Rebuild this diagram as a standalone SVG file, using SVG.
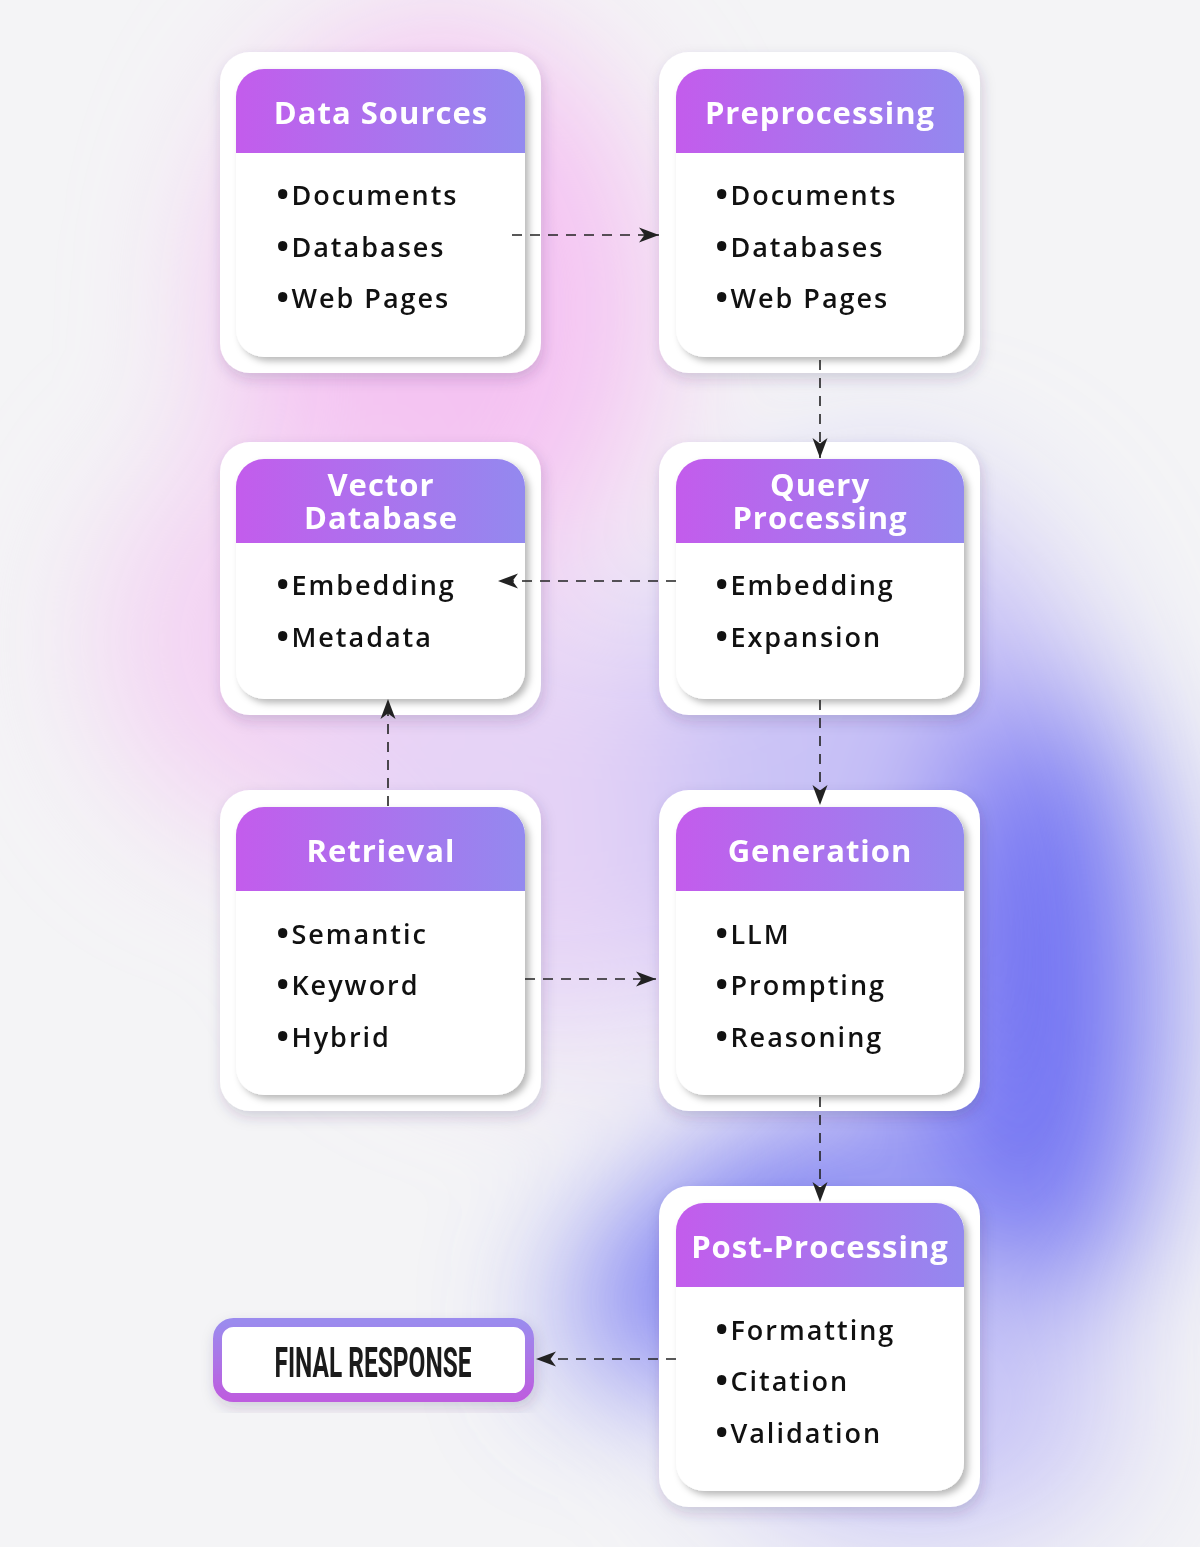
<svg xmlns="http://www.w3.org/2000/svg" width="1200" height="1547" viewBox="0 0 1200 1547">
<defs>
<linearGradient id="hdr" x1="0" y1="0" x2="1" y2="0">
<stop offset="0" stop-color="#c35cec"/>
<stop offset="1" stop-color="#9389ef"/>
</linearGradient>
<linearGradient id="frBorder" x1="0" y1="0" x2="0" y2="1">
<stop offset="0" stop-color="#9b8bee"/>
<stop offset="1" stop-color="#bd5ddf"/>
</linearGradient>
<filter id="blur" filterUnits="userSpaceOnUse" x="-300" y="-300" width="1800" height="2150">
<feGaussianBlur stdDeviation="70"/>
</filter>
<filter id="outerShadow" x="-20%" y="-20%" width="140%" height="140%">
<feDropShadow dx="2" dy="6" stdDeviation="7" flood-color="#3a2a5a" flood-opacity="0.18"/>
</filter>
<filter id="innerShadow" x="-20%" y="-20%" width="140%" height="140%">
<feDropShadow dx="4" dy="4" stdDeviation="3.5" flood-color="#000" flood-opacity="0.28"/>
</filter>
<marker id="arr" markerUnits="userSpaceOnUse" markerWidth="22" markerHeight="18" viewBox="0 0 22 18" refX="20" refY="9" orient="auto">
<path d="M0,1.5 L20,9 L0,16.5 L5.5,9 Z" fill="#222"/>
</marker>
</defs>
<style>
.outer{fill:#fff;filter:url(#outerShadow)}
.inner{fill:#fff;filter:url(#innerShadow)}
.hdr{fill:url(#hdr)}
.title{font-family:"Open Sans","Liberation Sans",sans-serif;font-weight:700;font-size:31px;fill:#fff;text-anchor:middle;letter-spacing:1px}
.item{font-family:"Open Sans","Liberation Sans",sans-serif;font-weight:600;font-size:27px;fill:#111;letter-spacing:2px}
.b{font-weight:800;font-size:29px;letter-spacing:3px}
.conn path{fill:none;stroke:#222;stroke-width:1.6;stroke-dasharray:10 8;marker-end:url(#arr)}
.fr{font-family:Roboto,"Liberation Sans",sans-serif;font-weight:700;font-size:42px;fill:#1b1b1b;text-anchor:middle}
</style>
<rect width="1200" height="1547" fill="#f4f4f6"/>
<g filter="url(#blur)">
<ellipse cx="440" cy="310" rx="220" ry="290" fill="#f4c2f2"/>
<ellipse cx="290" cy="640" rx="190" ry="200" fill="#f3d2f3"/>
<ellipse cx="560" cy="820" rx="240" ry="220" fill="#e5d3f6"/>
<ellipse cx="880" cy="780" rx="220" ry="300" fill="#c9c2f6"/>
<ellipse cx="1040" cy="1000" rx="120" ry="320" fill="#6e6ff2"/>
<ellipse cx="750" cy="1250" rx="200" ry="95" transform="rotate(-30 750 1250)" fill="#6f72f2"/>
<ellipse cx="920" cy="1420" rx="200" ry="120" fill="#c7c4f6"/>
</g>

<g id="data-sources" transform="translate(220,52)">
<rect class="outer" x="0" y="0" width="321" height="321" rx="30"/>
<rect class="inner" x="16" y="17" width="289" height="288" rx="28"/>
<path class="hdr" d="M16,101 V45 A28,28 0 0 1 44,17 H277 A28,28 0 0 1 305,45 V101 Z"/>
<text class="title" x="161" y="72">Data Sources</text>
<text class="item" x="57" y="153"><tspan class="b">•</tspan>Documents</text>
<text class="item" x="57" y="205"><tspan class="b">•</tspan>Databases</text>
<text class="item" x="57" y="256"><tspan class="b">•</tspan>Web Pages</text>
</g>

<g id="preprocessing" transform="translate(659,52)">
<rect class="outer" x="0" y="0" width="321" height="321" rx="30"/>
<rect class="inner" x="17" y="17" width="288" height="288" rx="28"/>
<path class="hdr" d="M17,101 V45 A28,28 0 0 1 45,17 H277 A28,28 0 0 1 305,45 V101 Z"/>
<text class="title" x="161" y="72">Preprocessing</text>
<text class="item" x="57" y="153"><tspan class="b">•</tspan>Documents</text>
<text class="item" x="57" y="205"><tspan class="b">•</tspan>Databases</text>
<text class="item" x="57" y="256"><tspan class="b">•</tspan>Web Pages</text>
</g>

<g id="vector-database" transform="translate(220,442)">
<rect class="outer" x="0" y="0" width="321" height="273" rx="30"/>
<rect class="inner" x="16" y="17" width="289" height="240" rx="28"/>
<path class="hdr" d="M16,101 V45 A28,28 0 0 1 44,17 H277 A28,28 0 0 1 305,45 V101 Z"/>
<text class="title" x="161" y="54">Vector<tspan x="161" dy="33">Database</tspan></text>
<text class="item" x="57" y="153"><tspan class="b">•</tspan>Embedding</text>
<text class="item" x="57" y="205"><tspan class="b">•</tspan>Metadata</text>
</g>

<g id="query-processing" transform="translate(659,442)">
<rect class="outer" x="0" y="0" width="321" height="273" rx="30"/>
<rect class="inner" x="17" y="17" width="288" height="240" rx="28"/>
<path class="hdr" d="M17,101 V45 A28,28 0 0 1 45,17 H277 A28,28 0 0 1 305,45 V101 Z"/>
<text class="title" x="161" y="54">Query<tspan x="161" dy="33">Processing</tspan></text>
<text class="item" x="57" y="153"><tspan class="b">•</tspan>Embedding</text>
<text class="item" x="57" y="205"><tspan class="b">•</tspan>Expansion</text>
</g>

<g id="retrieval" transform="translate(220,790)">
<rect class="outer" x="0" y="0" width="321" height="321" rx="30"/>
<rect class="inner" x="16" y="17" width="289" height="288" rx="28"/>
<path class="hdr" d="M16,101 V45 A28,28 0 0 1 44,17 H277 A28,28 0 0 1 305,45 V101 Z"/>
<text class="title" x="161" y="72">Retrieval</text>
<text class="item" x="57" y="154"><tspan class="b">•</tspan>Semantic</text>
<text class="item" x="57" y="205"><tspan class="b">•</tspan>Keyword</text>
<text class="item" x="57" y="257"><tspan class="b">•</tspan>Hybrid</text>
</g>

<g id="generation" transform="translate(659,790)">
<rect class="outer" x="0" y="0" width="321" height="321" rx="30"/>
<rect class="inner" x="17" y="17" width="288" height="288" rx="28"/>
<path class="hdr" d="M17,101 V45 A28,28 0 0 1 45,17 H277 A28,28 0 0 1 305,45 V101 Z"/>
<text class="title" x="161" y="72">Generation</text>
<text class="item" x="57" y="154"><tspan class="b">•</tspan>LLM</text>
<text class="item" x="57" y="205"><tspan class="b">•</tspan>Prompting</text>
<text class="item" x="57" y="257"><tspan class="b">•</tspan>Reasoning</text>
</g>

<g id="post-processing" transform="translate(659,1186)">
<rect class="outer" x="0" y="0" width="321" height="321" rx="30"/>
<rect class="inner" x="17" y="17" width="288" height="288" rx="28"/>
<path class="hdr" d="M17,101 V45 A28,28 0 0 1 45,17 H277 A28,28 0 0 1 305,45 V101 Z"/>
<text class="title" x="161" y="72">Post-Processing</text>
<text class="item" x="57" y="154"><tspan class="b">•</tspan>Formatting</text>
<text class="item" x="57" y="205"><tspan class="b">•</tspan>Citation</text>
<text class="item" x="57" y="257"><tspan class="b">•</tspan>Validation</text>
</g>

<g id="final-response">
<rect x="217.5" y="1322.5" width="312" height="75" rx="16" fill="#fff" stroke="url(#frBorder)" stroke-width="9" filter="url(#outerShadow)"/>
<text class="fr" x="373" y="1377" textLength="197" lengthAdjust="spacingAndGlyphs">FINAL RESPONSE</text>
</g>

<g id="connectors" class="conn">
<path d="M512,235 H659"/>
<path d="M820,360 V458"/>
<path d="M676,581 H498"/>
<path d="M820,700 V805"/>
<path d="M388,806 V699"/>
<path d="M525,979 H656"/>
<path d="M820,1097 V1202"/>
<path d="M676,1359 H536"/>
</g>
</svg>
